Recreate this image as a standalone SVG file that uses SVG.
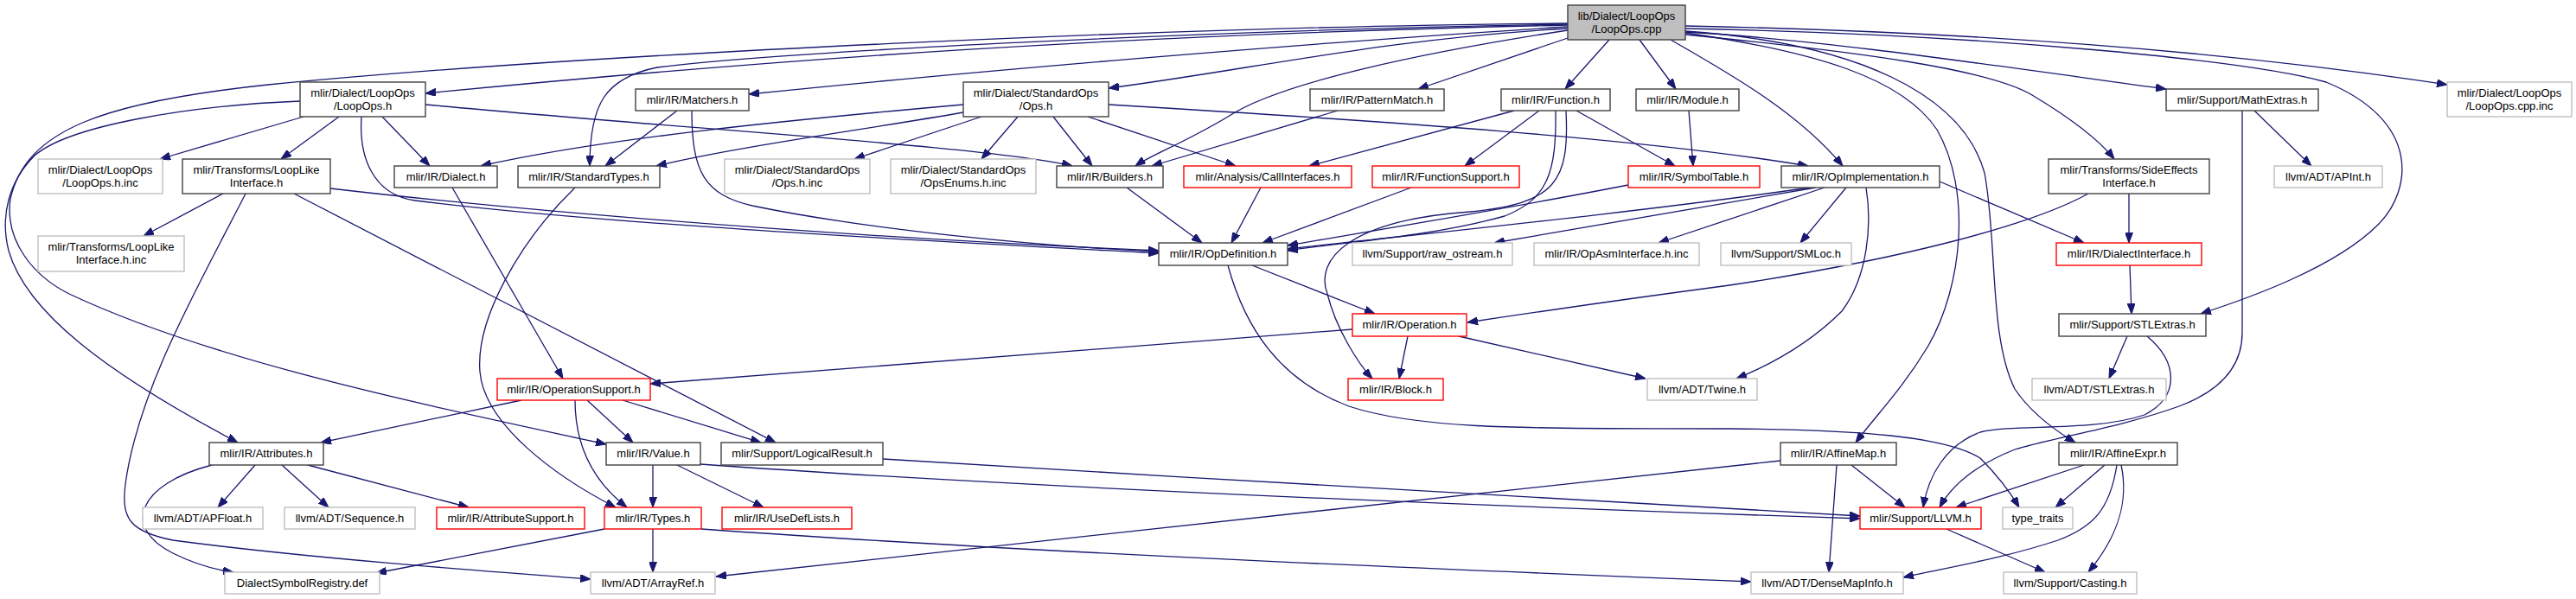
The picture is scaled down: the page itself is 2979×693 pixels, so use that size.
<svg xmlns="http://www.w3.org/2000/svg" width="2979" height="693" viewBox="0 0 2979 693">
<defs>
<marker id="a" viewBox="0 0 12 9" refX="12" refY="4.5" markerWidth="12" markerHeight="9" orient="auto" markerUnits="userSpaceOnUse"><path d="M0,0 L12,4.5 L0,9 z" fill="#191970" stroke="#191970" stroke-width="1"/></marker>
</defs>
<style>
rect{stroke-width:1.4}
.b rect{fill:#fff;stroke:#404040}
.r rect{fill:#fff;stroke:#ff0000}
.g rect{fill:#fff;stroke:#bfbfbf}
.root rect{fill:#bfbfbf;stroke:#404040}
text{font-family:"Liberation Sans",Arial,sans-serif;font-size:13px;text-anchor:middle;fill:#000}
#edges path{fill:none;stroke:#191970;stroke-width:1.3;marker-end:url(#a)}
</style>
<rect x="0" y="0" width="2979" height="693" fill="#fff" stroke="none"/>
<g id="edges">
<path d="M1813,29 C1300,40 900,68 492,108"/>
<path d="M1813,31 C1500,50 1100,85 866,109"/>
<path d="M1813,33 C1600,45 1450,80 1282,102"/>
<path d="M1813,28 C1400,35 900,60 760,78 C700,90 682,120 682,192"/>
<path d="M1813,27 C1400,30 700,60 310,98 C120,118 30,150 12,230 C5,280 40,320 80,340 C250,420 500,470 701,514"/>
<path d="M1813,35 C1650,60 1480,95 1420,135 C1370,165 1330,180 1313,192"/>
<path d="M1813,44 L1640,103"/>
<path d="M1861,46 L1810,103"/>
<path d="M1896,46 L1938,103"/>
<path d="M1932,46 C2000,85 2080,130 2131,192"/>
<path d="M1949,30 C2250,36 2550,55 2830,98"/>
<path d="M1949,37 C2100,45 2300,75 2505,103"/>
<path d="M1949,40 C2150,60 2300,80 2350,110 C2400,140 2430,165 2445,184"/>
<path d="M1949,33 C2300,40 2600,70 2690,95 C2800,140 2790,220 2750,260 C2700,310 2600,345 2545,363"/>
<path d="M1949,38 C2100,60 2200,90 2240,150 C2280,220 2270,330 2230,400 C2200,450 2170,480 2146,512"/>
<path d="M1949,36 C2150,50 2270,110 2295,200 C2310,280 2300,390 2330,450 C2350,480 2380,500 2400,512"/>
<path d="M351,135 L185,184"/>
<path d="M392,135 L325,184"/>
<path d="M442,135 L497,192"/>
<path d="M492,121 C800,150 1150,170 1240,192"/>
<path d="M418,135 C415,180 430,225 480,232 C700,260 1100,280 1340,293"/>
<path d="M347,117 C220,122 80,145 40,180 C10,210 0,250 10,290 C30,360 120,430 275,512"/>
<path d="M783,128 L700,192"/>
<path d="M800,128 C800,200 815,225 870,238 C1000,265 1200,285 1340,291"/>
<path d="M1114,121 C900,140 700,160 556,192"/>
<path d="M1114,130 C1000,150 850,170 759,192"/>
<path d="M1135,135 L988,184"/>
<path d="M1177,135 L1135,184"/>
<path d="M1218,135 L1263,192"/>
<path d="M1258,135 L1429,192"/>
<path d="M1282,121 C1600,140 1900,160 2091,192"/>
<path d="M1547,128 L1332,192"/>
<path d="M1751,128 L1514,192"/>
<path d="M1780,128 L1694,192"/>
<path d="M1823,128 L1937,192"/>
<path d="M1799,128 C1800,200 1790,230 1740,250 C1650,275 1550,280 1489,290"/>
<path d="M1811,128 C1815,210 1800,235 1700,245 C1560,255 1520,300 1535,340 C1545,380 1570,420 1587,438"/>
<path d="M1953,128 L1958,192"/>
<path d="M1458,217 L1424,281"/>
<path d="M1303,217 L1390,281"/>
<path d="M1632,217 L1460,281"/>
<path d="M1883,214 C1750,240 1600,265 1489,284"/>
<path d="M2093,217 C1900,245 1650,270 1489,288"/>
<path d="M2100,217 L1728,281"/>
<path d="M2110,217 L1918,281"/>
<path d="M2135,217 L2082,281"/>
<path d="M2158,217 C2165,260 2160,320 2130,360 C2090,400 2040,425 2008,438"/>
<path d="M2243,210 L2410,281"/>
<path d="M2462,224 L2462,281"/>
<path d="M2415,224 C2350,260 2200,300 2000,330 C1850,350 1750,365 1697,373"/>
<path d="M2463,307 L2465,363"/>
<path d="M2460,389 L2439,438"/>
<path d="M2483,389 C2520,420 2520,460 2480,480 C2420,500 2330,490 2290,500 C2250,515 2230,550 2224,587"/>
<path d="M2593,128 L2593,385 C2593,430 2560,455 2520,470 C2450,495 2380,505 2330,520 C2280,540 2255,565 2243,587"/>
<path d="M2607,128 L2673,192"/>
<path d="M2059,533 L828,667"/>
<path d="M2124,538 L2115,662"/>
<path d="M2141,538 L2203,587"/>
<path d="M2410,538 L2262,587"/>
<path d="M2434,538 L2377,587"/>
<path d="M2453,538 C2462,580 2450,620 2415,662"/>
<path d="M2448,538 C2440,590 2420,610 2380,625 C2320,645 2260,655 2201,668"/>
<path d="M2251,612 L2365,662"/>
<path d="M1448,307 L1590,363"/>
<path d="M1420,307 C1440,380 1480,440 1560,470 C1650,500 1800,495 2000,496 C2150,497 2250,505 2290,530 C2310,550 2325,570 2335,587"/>
<path d="M1628,389 L1618,438"/>
<path d="M1687,389 L1903,438"/>
<path d="M1564,381 L752,444"/>
<path d="M603,463 L371,512"/>
<path d="M665,463 C665,520 690,560 725,587"/>
<path d="M679,463 L732,512"/>
<path d="M720,463 L880,512"/>
<path d="M523,217 L651,438"/>
<path d="M665,217 C600,280 550,370 555,430 C560,490 640,550 712,587"/>
<path d="M258,224 L166,273"/>
<path d="M284,224 C230,330 160,450 145,560 C140,600 150,615 200,625 C350,645 550,660 683,670"/>
<path d="M340,224 L897,512"/>
<path d="M382,218 C700,255 1100,280 1340,290"/>
<path d="M245,538 C160,560 140,610 200,640 C230,655 255,660 270,662"/>
<path d="M295,538 L252,587"/>
<path d="M326,538 L380,587"/>
<path d="M356,538 L542,587"/>
<path d="M755,538 L755,587"/>
<path d="M783,538 L883,587"/>
<path d="M810,537 C1200,565 1700,585 2151,600"/>
<path d="M1021,531 C1400,553 1800,580 2151,597"/>
<path d="M755,612 L755,662"/>
<path d="M811,612 C1200,640 1700,660 2025,673"/>
<path d="M699,612 L435,663"/>
</g>
<g id="n_root" class="root"><rect x="1813" y="6" width="136" height="40"/><text x="1881" y="23">lib/Dialect/LoopOps</text><text x="1881" y="37.5">/LoopOps.cpp</text></g>
<g id="n_loopops_h" class="b"><rect x="347" y="95" width="145" height="40"/><text x="419.5" y="112">mlir/Dialect/LoopOps</text><text x="419.5" y="126.5">/LoopOps.h</text></g>
<g id="n_matchers" class="b"><rect x="735" y="103" width="131" height="25"/><text x="800.5" y="119.5">mlir/IR/Matchers.h</text></g>
<g id="n_stdops" class="b"><rect x="1114" y="95" width="168" height="40"/><text x="1198" y="112">mlir/Dialect/StandardOps</text><text x="1198" y="126.5">/Ops.h</text></g>
<g id="n_patternmatch" class="b"><rect x="1515" y="103" width="155" height="25"/><text x="1592.5" y="119.5">mlir/IR/PatternMatch.h</text></g>
<g id="n_function" class="b"><rect x="1736" y="103" width="126" height="25"/><text x="1799" y="119.5">mlir/IR/Function.h</text></g>
<g id="n_module" class="b"><rect x="1892" y="103" width="119" height="25"/><text x="1951.5" y="119.5">mlir/IR/Module.h</text></g>
<g id="n_mathextras" class="b"><rect x="2505" y="103" width="176" height="25"/><text x="2593" y="119.5">mlir/Support/MathExtras.h</text></g>
<g id="n_cppinc" class="g"><rect x="2830" y="95" width="144" height="40"/><text x="2902" y="112">mlir/Dialect/LoopOps</text><text x="2902" y="126.5">/LoopOps.cpp.inc</text></g>
<g id="n_loopops_hinc" class="g"><rect x="44" y="184" width="144" height="40"/><text x="116" y="201">mlir/Dialect/LoopOps</text><text x="116" y="215.5">/LoopOps.h.inc</text></g>
<g id="n_looplike" class="b"><rect x="211" y="184" width="171" height="40"/><text x="296.5" y="201">mlir/Transforms/LoopLike</text><text x="296.5" y="215.5">Interface.h</text></g>
<g id="n_dialect" class="b"><rect x="456" y="192" width="119" height="25"/><text x="515.5" y="208.5">mlir/IR/Dialect.h</text></g>
<g id="n_stdtypes" class="b"><rect x="599" y="192" width="164" height="25"/><text x="681" y="208.5">mlir/IR/StandardTypes.h</text></g>
<g id="n_opshinc" class="g"><rect x="838" y="184" width="168" height="40"/><text x="922" y="201">mlir/Dialect/StandardOps</text><text x="922" y="215.5">/Ops.h.inc</text></g>
<g id="n_opsenums" class="g"><rect x="1030" y="184" width="168" height="40"/><text x="1114" y="201">mlir/Dialect/StandardOps</text><text x="1114" y="215.5">/OpsEnums.h.inc</text></g>
<g id="n_builders" class="b"><rect x="1222" y="192" width="123" height="25"/><text x="1283.5" y="208.5">mlir/IR/Builders.h</text></g>
<g id="n_callif" class="r"><rect x="1369" y="192" width="194" height="25"/><text x="1466" y="208.5">mlir/Analysis/CallInterfaces.h</text></g>
<g id="n_funcsupport" class="r"><rect x="1587" y="192" width="170" height="25"/><text x="1672" y="208.5">mlir/IR/FunctionSupport.h</text></g>
<g id="n_symboltable" class="r"><rect x="1883" y="192" width="152" height="25"/><text x="1959" y="208.5">mlir/IR/SymbolTable.h</text></g>
<g id="n_opimpl" class="b"><rect x="2060" y="192" width="183" height="25"/><text x="2151.5" y="208.5">mlir/IR/OpImplementation.h</text></g>
<g id="n_sideeffects" class="b"><rect x="2369" y="184" width="186" height="40"/><text x="2462" y="201">mlir/Transforms/SideEffects</text><text x="2462" y="215.5">Interface.h</text></g>
<g id="n_apint" class="g"><rect x="2630" y="192" width="125" height="25"/><text x="2692.5" y="208.5">llvm/ADT/APInt.h</text></g>
<g id="n_looplikeinc" class="g"><rect x="44" y="273" width="169" height="41"/><text x="128.5" y="290">mlir/Transforms/LoopLike</text><text x="128.5" y="304.5">Interface.h.inc</text></g>
<g id="n_opdef" class="b"><rect x="1340" y="281" width="149" height="26"/><text x="1414.5" y="297.5">mlir/IR/OpDefinition.h</text></g>
<g id="n_rawostream" class="g"><rect x="1564" y="281" width="185" height="26"/><text x="1656.5" y="297.5">llvm/Support/raw_ostream.h</text></g>
<g id="n_opasm" class="g"><rect x="1774" y="281" width="191" height="26"/><text x="1869.5" y="297.5">mlir/IR/OpAsmInterface.h.inc</text></g>
<g id="n_smloc" class="g"><rect x="1990" y="281" width="151" height="26"/><text x="2065.5" y="297.5">llvm/Support/SMLoc.h</text></g>
<g id="n_dialectif" class="r"><rect x="2378" y="281" width="168" height="26"/><text x="2462" y="297.5">mlir/IR/DialectInterface.h</text></g>
<g id="n_operation" class="r"><rect x="1564" y="363" width="132" height="26"/><text x="1630" y="379.5">mlir/IR/Operation.h</text></g>
<g id="n_stlextras" class="b"><rect x="2381" y="363" width="170" height="26"/><text x="2466" y="379.5">mlir/Support/STLExtras.h</text></g>
<g id="n_opsupport" class="r"><rect x="575" y="438" width="177" height="25"/><text x="663.5" y="454.5">mlir/IR/OperationSupport.h</text></g>
<g id="n_block" class="r"><rect x="1559" y="438" width="110" height="25"/><text x="1614" y="454.5">mlir/IR/Block.h</text></g>
<g id="n_twine" class="g"><rect x="1905" y="438" width="127" height="25"/><text x="1968.5" y="454.5">llvm/ADT/Twine.h</text></g>
<g id="n_llvmstl" class="g"><rect x="2350" y="438" width="155" height="25"/><text x="2427.5" y="454.5">llvm/ADT/STLExtras.h</text></g>
<g id="n_attributes" class="b"><rect x="242" y="512" width="132" height="26"/><text x="308" y="528.5">mlir/IR/Attributes.h</text></g>
<g id="n_value" class="b"><rect x="701" y="512" width="109" height="26"/><text x="755.5" y="528.5">mlir/IR/Value.h</text></g>
<g id="n_logicalresult" class="b"><rect x="834" y="512" width="187" height="26"/><text x="927.5" y="528.5">mlir/Support/LogicalResult.h</text></g>
<g id="n_affinemap" class="b"><rect x="2059" y="512" width="134" height="26"/><text x="2126" y="528.5">mlir/IR/AffineMap.h</text></g>
<g id="n_affineexpr" class="b"><rect x="2381" y="512" width="137" height="26"/><text x="2449.5" y="528.5">mlir/IR/AffineExpr.h</text></g>
<g id="n_apfloat" class="g"><rect x="165" y="587" width="139" height="25"/><text x="234.5" y="603.5">llvm/ADT/APFloat.h</text></g>
<g id="n_sequence" class="g"><rect x="329" y="587" width="151" height="25"/><text x="404.5" y="603.5">llvm/ADT/Sequence.h</text></g>
<g id="n_attrsupport" class="r"><rect x="505" y="587" width="171" height="25"/><text x="590.5" y="603.5">mlir/IR/AttributeSupport.h</text></g>
<g id="n_types" class="r"><rect x="699" y="587" width="112" height="25"/><text x="755" y="603.5">mlir/IR/Types.h</text></g>
<g id="n_usedef" class="r"><rect x="835" y="587" width="150" height="25"/><text x="910" y="603.5">mlir/IR/UseDefLists.h</text></g>
<g id="n_llvm" class="r"><rect x="2151" y="587" width="140" height="25"/><text x="2221" y="603.5">mlir/Support/LLVM.h</text></g>
<g id="n_typetraits" class="g"><rect x="2316" y="587" width="81" height="25"/><text x="2356.5" y="603.5">type_traits</text></g>
<g id="n_dsr" class="g"><rect x="260" y="662" width="179" height="25"/><text x="349.5" y="678.5">DialectSymbolRegistry.def</text></g>
<g id="n_arrayref" class="g"><rect x="683" y="662" width="144" height="25"/><text x="755" y="678.5">llvm/ADT/ArrayRef.h</text></g>
<g id="n_densemap" class="g"><rect x="2025" y="662" width="176" height="25"/><text x="2113" y="678.5">llvm/ADT/DenseMapInfo.h</text></g>
<g id="n_casting" class="g"><rect x="2317" y="662" width="154" height="25"/><text x="2394" y="678.5">llvm/Support/Casting.h</text></g>
</svg>
